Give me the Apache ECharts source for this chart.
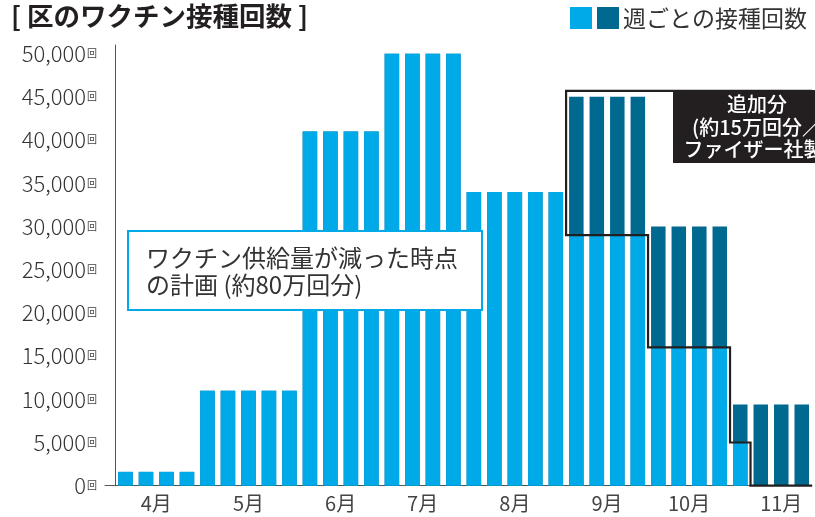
<!DOCTYPE html>
<html><head><meta charset="utf-8">
<script src="https://cdn.jsdelivr.net/npm/echarts@6/dist/echarts.min.js"></script>
<style>html,body{margin:0;padding:0;background:#fff}#c{width:815px;height:517px}</style>
</head><body><div id="c"></div>
<script>
// ---- data ----
const monthNames = ['4月', '5月', '6月', '7月', '8月', '9月', '10月', '11月'];
const monthLabelPos = [2, 6.5, 11, 15, 19.5, 24, 28, 32.5];   // week index where month label sits
const totalDoses = [
  1600, 1600, 1600, 1600,
  11000, 11000, 11000, 11000, 11000,
  41000, 41000, 41000, 41000,
  50000, 50000, 50000, 50000,
  34000, 34000, 34000, 34000, 34000,
  45000, 45000, 45000, 45000,
  30000, 30000, 30000, 30000,
  9400, 9400, 9400, 9400
];
const plannedDoses = [
  1600, 1600, 1600, 1600,
  11000, 11000, 11000, 11000, 11000,
  41000, 41000, 41000, 41000,
  50000, 50000, 50000, 50000,
  34000, 34000, 34000, 34000, 34000,
  29000, 29000, 29000, 29000,
  16000, 16000, 16000, 16000,
  5000, 0, 0, 0
];
const additionalStartWeek = 22;
const additionalBoxTop = 45700;
const yTickValues = [0, 5000, 10000, 15000, 20000, 25000, 30000, 35000, 40000, 45000, 50000];

// ---- build ----
const FONT = '"Noto Sans CJK JP", "Noto Sans", sans-serif';
const LIGHT = '#00aae9', DARK = '#00698f';
const totalData = totalDoses.map((v, i) => [i + 0.5, v]);
const plannedData = plannedDoses.map((v, i) => [i + 0.5, v]);
const stepData = [[totalDoses.length, additionalBoxTop], [additionalStartWeek, additionalBoxTop]];
for (let i = additionalStartWeek; i < plannedDoses.length; i++) {
  stepData.push([i, plannedDoses[i]], [i + 1, plannedDoses[i]]);
}

const chart = echarts.init(document.getElementById('c'), null, {renderer: 'canvas'});
chart.setOption({
  animation: false,
  backgroundColor: '#fff',
  grid: {left: 105, right: 0, top: 45, bottom: 31.3, containLabel: false},
  xAxis: {
    type: 'value', min: -0.5, max: totalDoses.length, interval: 0.5,
    splitLine: {show: false}, axisTick: {show: false},
    axisLine: {show: true, lineStyle: {color: '#555', width: 1}},
    axisLabel: {
      margin: 8, fontSize: 20, color: '#444', fontFamily: FONT,
      showMinLabel: true, showMaxLabel: true,
      formatter: function (v) {
        for (let k = 0; k < monthLabelPos.length; k++) {
          if (Math.abs(monthLabelPos[k] - v) < 1e-6) return monthNames[k];
        }
        return '';
      }
    }
  },
  yAxis: {
    type: 'value', min: 0, max: 51000, interval: 5000,
    splitLine: {show: false}, axisTick: {show: false},
    axisLine: {show: true, lineStyle: {color: '#555', width: 1}},
    axisLabel: {
      margin: 8, showMaxLabel: false,
      formatter: function (v) {
        if (yTickValues.indexOf(v) < 0) return '';
        return '{n|' + v.toLocaleString('en-US') + '}{u|回}';
      },
      rich: {
        n: {fontSize: 22, color: '#333', fontFamily: FONT, fontWeight: 300},
        u: {fontSize: 10, color: '#444', fontFamily: FONT, padding: [0, 0, 1, 1]}
      }
    }
  },
  series: [
    {type: 'bar', name: '追加分', data: totalData, barWidth: 14.5, barGap: '-100%',
     itemStyle: {color: DARK}, z: 2},
    {type: 'bar', name: '計画', data: plannedData, barWidth: 14.5, barGap: '-100%',
     itemStyle: {color: LIGHT}, z: 3},
    {type: 'line', data: stepData, symbol: 'none', showSymbol: false,
     lineStyle: {color: '#231f20', width: 2.2, join: 'miter'}, z: 5, clip: false}
  ],
  graphic: [
    {type: 'text', left: 11, top: 3, z: 100,
     style: {text: '[ 区のワクチン接種回数 ]', font: 'bold 26.5px ' + FONT, fill: '#231f20'}},
    {type: 'rect', shape: {x: 570, y: 7, width: 22, height: 22}, style: {fill: LIGHT}, z: 100},
    {type: 'rect', shape: {x: 597, y: 7, width: 22, height: 22}, style: {fill: DARK}, z: 100},
    {type: 'text', x: 623, y: 18, z: 100,
     style: {text: '週ごとの接種回数', font: '23px ' + FONT, fill: '#333', verticalAlign: 'middle'}},
    {type: 'rect', shape: {x: 128, y: 231, width: 354, height: 79},
     style: {fill: '#fff', stroke: LIGHT, lineWidth: 2}, z: 100},
    {type: 'text', x: 146, y: 271, z: 101,
     style: {text: 'ワクチン供給量が減った時点\nの計画 (約80万回分)', font: '24px ' + FONT,
             lineHeight: 27, fill: '#333', verticalAlign: 'middle'}},
    {type: 'rect', shape: {x: 673, y: 90, width: 170, height: 73}, style: {fill: '#231f20'}, z: 100},
    {type: 'text', x: 757, y: 127, z: 101,
     style: {text: '追加分\n(約15万回分／\nファイザー社製)', font: '500 20px ' + FONT,
             lineHeight: 22.5, fill: '#fff', align: 'center', verticalAlign: 'middle'}}
  ]
});
</script>
</body></html>
